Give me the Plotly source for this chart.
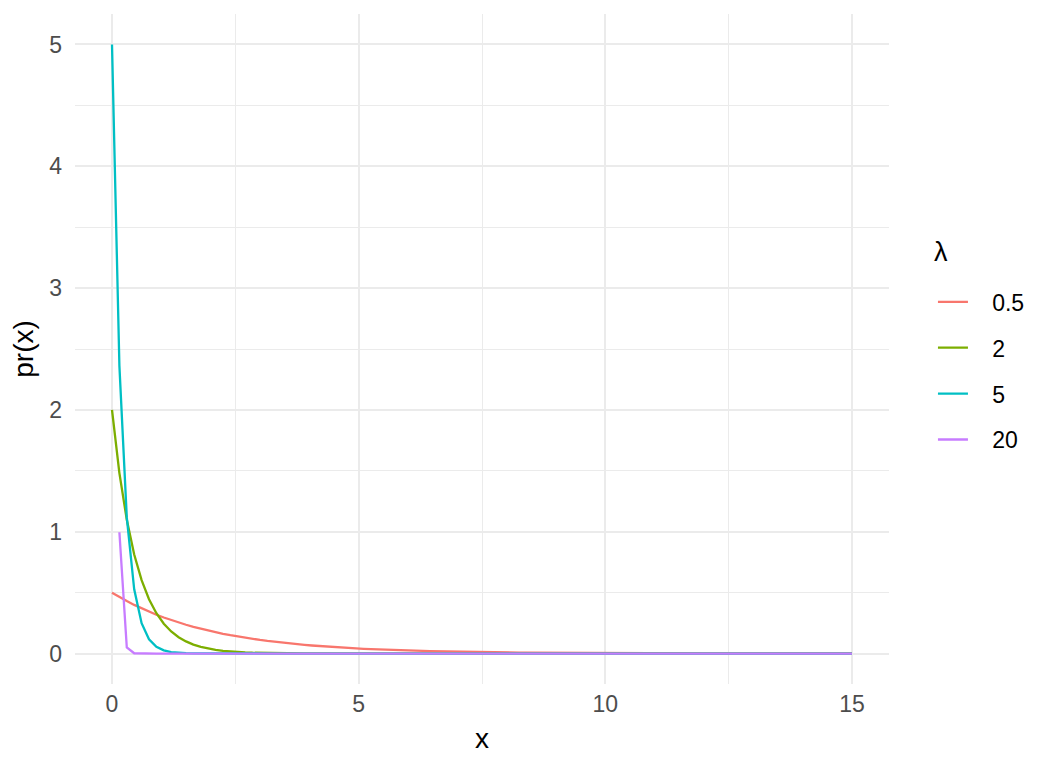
import plotly.graph_objects as go

# x grid
x = [0, 0.15, 0.3, 0.45, 0.6, 0.75, 0.9, 1.05, 1.2, 1.35,
     1.5, 1.65, 1.8, 1.95, 2.1, 2.25, 2.4, 2.55, 2.7, 2.85,
     3.0, 3.15, 3.3, 3.45, 3.6, 3.75, 3.9, 4.05, 4.2, 4.35,
     4.5, 4.65, 4.8, 4.95, 5.1, 5.25, 5.4, 5.55, 5.7, 5.85,
     6.0, 6.15, 6.3, 6.45, 6.6, 6.75, 6.9, 7.05, 7.2, 7.35,
     7.5, 7.65, 7.8, 7.95, 8.1, 8.25, 8.4, 8.55, 8.7, 8.85,
     9.0, 9.15, 9.3, 9.45, 9.6, 9.75, 9.9, 10.05, 10.2, 10.35,
     10.5, 10.65, 10.8, 10.95, 11.1, 11.25, 11.4, 11.55, 11.7, 11.85,
     12.0, 12.15, 12.3, 12.45, 12.6, 12.75, 12.9, 13.05, 13.2, 13.35,
     13.5, 13.65, 13.8, 13.95, 14.1, 14.25, 14.4, 14.55, 14.7, 14.85,
     15.0]

y_lam_0_5 = [0.5, 0.4639, 0.4304, 0.3993, 0.3704, 0.3436, 0.3188, 0.2958, 0.2744, 0.2546,
             0.2362, 0.2191, 0.2033, 0.1886, 0.1750, 0.1623, 0.1506, 0.1397, 0.1296, 0.1203,
             0.1116, 0.1035, 0.0960, 0.0891, 0.0827, 0.0767, 0.0711, 0.0660, 0.0612, 0.0568,
             0.0527, 0.0489, 0.0454, 0.0421, 0.0390, 0.0362, 0.0336, 0.0312, 0.0289, 0.0268,
             0.0249, 0.0231, 0.0214, 0.0199, 0.0184, 0.0171, 0.0159, 0.0147, 0.0137, 0.0127,
             0.0118, 0.0109, 0.0101, 0.0094, 0.0087, 0.0081, 0.0075, 0.0070, 0.0065, 0.0060,
             0.0056, 0.0052, 0.0048, 0.0044, 0.0041, 0.0038, 0.0035, 0.0033, 0.0030, 0.0028,
             0.0026, 0.0024, 0.0023, 0.0021, 0.0019, 0.0018, 0.0017, 0.0016, 0.0014, 0.0013,
             0.0012, 0.0012, 0.0011, 0.0010, 0.0009, 0.0009, 0.0008, 0.0007, 0.0007, 0.0006,
             0.0006, 0.0005, 0.0005, 0.0005, 0.0004, 0.0004, 0.0004, 0.0003, 0.0003, 0.0003,
             0.0003]

y_lam_2 = [2.0, 1.4816, 1.0976, 0.8131, 0.6024, 0.4463, 0.3306, 0.2449, 0.1814, 0.1344,
           0.0996, 0.0738, 0.0546, 0.0405, 0.0300, 0.0222, 0.0165, 0.0122, 0.0090, 0.0067,
           0.0050, 0.0037, 0.0027, 0.0020, 0.0015, 0.0011, 0.0008, 0.0006, 0.0004, 0.0003,
           0.0002, 0, 0, 0, 0, 0, 0, 0, 0, 0,
           0, 0, 0, 0, 0, 0, 0, 0, 0, 0,
           0, 0, 0, 0, 0, 0, 0, 0, 0, 0,
           0, 0, 0, 0, 0, 0, 0, 0, 0, 0,
           0, 0, 0, 0, 0, 0, 0, 0, 0, 0,
           0, 0, 0, 0, 0, 0, 0, 0, 0, 0,
           0, 0, 0, 0, 0, 0, 0, 0, 0, 0,
           0]

y_lam_5 = [5.0, 2.3618, 1.1157, 0.5270, 0.2489, 0.1176, 0.0555, 0.0262, 0.0124, 0.0059,
           0.0028, 0.0013, 0.0006, 0.0003, 0.0001, 0, 0, 0, 0, 0,
           0, 0, 0, 0, 0, 0, 0, 0, 0, 0,
           0, 0, 0, 0, 0, 0, 0, 0, 0, 0,
           0, 0, 0, 0, 0, 0, 0, 0, 0, 0,
           0, 0, 0, 0, 0, 0, 0, 0, 0, 0,
           0, 0, 0, 0, 0, 0, 0, 0, 0, 0,
           0, 0, 0, 0, 0, 0, 0, 0, 0, 0,
           0, 0, 0, 0, 0, 0, 0, 0, 0, 0,
           0, 0, 0, 0, 0, 0, 0, 0, 0, 0,
           0]

# first point (x=0) lies above the y-limit and is dropped
y_lam_20 = [None, 0.9957, 0.0496, 0.0025, 0.0001, 0, 0, 0, 0, 0,
            0, 0, 0, 0, 0, 0, 0, 0, 0, 0,
            0, 0, 0, 0, 0, 0, 0, 0, 0, 0,
            0, 0, 0, 0, 0, 0, 0, 0, 0, 0,
            0, 0, 0, 0, 0, 0, 0, 0, 0, 0,
            0, 0, 0, 0, 0, 0, 0, 0, 0, 0,
            0, 0, 0, 0, 0, 0, 0, 0, 0, 0,
            0, 0, 0, 0, 0, 0, 0, 0, 0, 0,
            0, 0, 0, 0, 0, 0, 0, 0, 0, 0,
            0, 0, 0, 0, 0, 0, 0, 0, 0, 0,
            0]

lambda_labels = ["0.5", "2", "5", "20"]
series = [y_lam_0_5, y_lam_2, y_lam_5, y_lam_20]
colors = ["#F8766D", "#7CAE00", "#00BFC4", "#C77CFF"]

x_ticks = [0, 5, 10, 15]
x_minor = [2.5, 7.5, 12.5]
y_ticks = [0, 1, 2, 3, 4, 5]
y_minor = [0.5, 1.5, 2.5, 3.5, 4.5]

FONT = "Liberation Sans, Arial, Helvetica, sans-serif"
GRID = "#EBEBEB"
NBSP = "\u00a0"

fig = go.Figure()
for lab, ys, col in zip(lambda_labels, series, colors):
    fig.add_trace(go.Scatter(
        x=x, y=ys, mode="lines", name=NBSP * 3 + lab, legendgroup=lab,
        line=dict(color=col, width=2.3), connectgaps=False,
    ))

axis_common = dict(
    showline=False, zeroline=False, ticks="", automargin=False,
    showgrid=True, gridcolor=GRID, gridwidth=2,
    tickfont=dict(family=FONT, size=23, color="#4D4D4D"),
)

fig.update_layout(
    width=1048, height=760,
    margin=dict(l=67, r=167, t=6, b=84, pad=0),
    plot_bgcolor="white", paper_bgcolor="white",
    font=dict(family=FONT, color="black"),
    xaxis=dict(
        range=[-0.75, 15.75], tickvals=x_ticks, ticktext=[str(v) for v in x_ticks],
        minor=dict(tickvals=x_minor, showgrid=True, gridcolor=GRID, gridwidth=1),
        title=dict(text="x", font=dict(family=FONT, size=28, color="black"), standoff=12),
        ticklabelstandoff=4,
        **axis_common,
    ),
    yaxis=dict(
        range=[-0.25, 5.25], tickvals=y_ticks, ticktext=[str(v) for v in y_ticks],
        minor=dict(tickvals=y_minor, showgrid=True, gridcolor=GRID, gridwidth=1),
        title=dict(text="pr(x)", font=dict(family=FONT, size=28, color="black"), standoff=8),
        ticklabelstandoff=12,
        **axis_common,
    ),
    legend=dict(
        x=1.054, y=0.6025, xanchor="left", yanchor="top",
        font=dict(family=FONT, size=23, color="black"),
        tracegroupgap=13, bgcolor="rgba(0,0,0,0)",
    ),
    annotations=[dict(
        text="λ", xref="paper", yref="paper", x=1.064, y=0.645,
        xanchor="center", yanchor="middle", showarrow=False,
        font=dict(family=FONT, size=27, color="black"),
    )],
)

fig.write_html("out.html")
